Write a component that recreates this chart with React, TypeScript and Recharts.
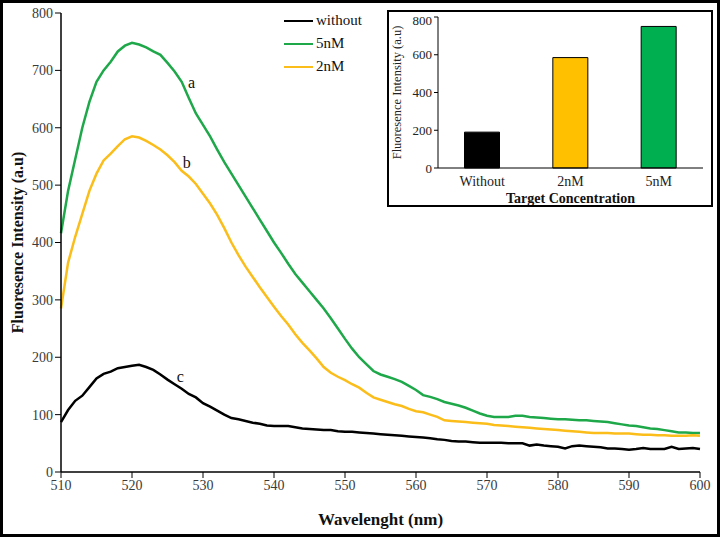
import {
  LineChart, Line, XAxis, YAxis, ReferenceDot,
  BarChart, Bar, Cell,
} from "recharts";

const SERIF = "'Liberation Serif', 'Times New Roman', serif";
const GREEN = "#1ea84a";
const YELLOW = "#fbbd1a";
const BLACK = "#000000";

// wavelength axis starts at 510 nm, one reading per nm
const START_NM = 510;
const wlTicks = [510, 520, 530, 540, 550, 560, 570, 580, 590, 600];
const intensityTicks = [0, 100, 200, 300, 400, 500, 600, 700, 800];

const without = [
  87, 108, 124, 133, 148, 163, 171, 175, 181, 183,
  185, 187, 183, 178, 170, 161, 153, 145, 136, 130,
  120, 114, 107, 100, 94, 92, 89, 86, 84, 81,
  80, 80, 80, 78, 76, 75, 74, 73, 73, 71,
  70, 70, 69, 68, 67, 66, 65, 64, 63, 62,
  61, 60, 59, 57, 56, 54, 53, 53, 52, 51,
  51, 51, 51, 50, 50, 50, 46, 48, 46, 45,
  44, 41, 45, 46, 45, 44, 43, 41, 41, 40,
  39, 40, 42, 40, 40, 40, 44, 40, 41, 42,
  40,
];

const nm5 = [
  416, 490, 545, 600, 645, 680, 700, 715, 733, 743,
  748, 745, 740, 733, 727, 713, 698, 680, 652, 625,
  605, 585, 562, 540, 520, 500, 480, 460, 440, 420,
  400, 382, 363, 345, 330, 315, 300, 285, 268, 250,
  232, 215, 200, 188, 176, 170, 166, 162, 157, 150,
  143, 134, 131, 127, 122, 119, 116, 112, 107, 102,
  98, 96, 96, 96, 98, 98, 96, 95, 94, 93,
  92, 92, 91, 90, 90, 89, 88, 87, 85, 83,
  81, 80, 78, 76, 75, 73, 71, 69, 69, 68,
  68,
];

const nm2 = [
  285, 365, 410, 450, 490, 520, 543, 555, 568, 580,
  585, 583, 577, 570, 562, 552, 540, 525, 515, 502,
  485, 468, 448, 425, 400, 378, 358, 340, 322, 305,
  288, 272, 257, 240, 225, 212, 198, 183, 173, 166,
  160, 153, 147, 138, 130, 126, 122, 118, 115, 110,
  106, 104, 100, 96, 90, 89, 88, 87, 86, 85,
  84, 82, 81, 80, 79, 78, 77, 76, 75, 74,
  73, 72, 71, 70, 69, 68, 68, 68, 67, 67,
  67, 66, 65, 65, 64, 64, 63, 63, 63, 64,
  63,
];

const spectra = without.map((v, i) => ({
  wl: START_NM + i,
  without: v,
  nm5: nm5[i],
  nm2: nm2[i],
}));

const curveTags = [
  { wl: 528.4, value: 680, text: "a" },
  { wl: 527.7, value: 540, text: "b" },
  { wl: 526.8, value: 167, text: "c" },
];

const legendItems = [
  { name: "without", color: BLACK },
  { name: "5nM", color: GREEN },
  { name: "2nM", color: YELLOW },
];

const barLabels = ["Without", "2nM", "5nM"];
const barValues = [190, 585, 750];
const barColors = [BLACK, "#ffc000", "#00b050"];
const barTicks = [0, 200, 400, 600, 800];

const bars = barLabels.map((name, i) => ({ name, value: barValues[i] }));

const tickStyle = { fill: "#3a3a3a", fontSize: 14, fontFamily: SERIF };

function LegendBox() {
  return (
    <div style={{ position: "absolute", left: 284, top: 9, fontFamily: SERIF, fontSize: 15, color: "#111" }}>
      {legendItems.map((it) => (
        <div key={it.name} style={{ display: "flex", alignItems: "center", height: 23 }}>
          <span style={{ width: 29, height: 2, background: it.color, marginRight: 3 }} />
          <span>{it.name}</span>
        </div>
      ))}
    </div>
  );
}

function Inset() {
  return (
    <div style={{
      position: "absolute", left: 387, top: 10, width: 326, height: 197,
      border: "2px solid #000", boxSizing: "border-box", background: "#fff",
    }}>
      <BarChart width={322} height={193} data={bars}
        margin={{ top: 5, right: 8, bottom: 0, left: 4 }} barCategoryGap="30%">
        <XAxis dataKey="name" tickLine={false} axisLine={{ stroke: "#000" }}
          tick={{ fill: "#222", fontSize: 14, fontFamily: SERIF }} height={37}
          interval={0}
          label={{ value: "Target Concentration", position: "insideBottom", offset: 2,
            style: { fill: "#111", fontSize: 14, fontWeight: 700, fontFamily: SERIF } }} />
        <XAxis xAxisId="top" orientation="top" dataKey="name" tick={false} tickLine={false}
          height={0} axisLine={{ stroke: "#999" }} />
        <YAxis domain={[0, 800]} ticks={barTicks} width={45} tickSize={4}
          axisLine={{ stroke: "#000" }} tickLine={{ stroke: "#000" }}
          tick={{ fill: "#222", fontSize: 13, fontFamily: SERIF }}
          label={{ value: "Fluoresence Intensity (a.u)", angle: -90, position: "insideLeft",
            offset: 4, textAnchor: "middle",
            style: { fill: "#222", fontSize: 12.5, fontFamily: SERIF } }} />
        <YAxis yAxisId="r" orientation="right" domain={[0, 800]} tick={false} tickLine={false}
          width={0} axisLine={{ stroke: "#999" }} />
        <Bar dataKey="value" stroke="#000" strokeWidth={1} isAnimationActive={false}>
          {bars.map((b, i) => <Cell key={b.name} fill={barColors[i]} />)}
        </Bar>
      </BarChart>
    </div>
  );
}

export default function App() {
  return (
    <div style={{ position: "absolute", left: 0, top: 0, width: 720, height: 537, background: "#fff" }}>
      <LineChart width={720} height={537} data={spectra}
        margin={{ top: 13, right: 20, bottom: 5, left: 12 }}>
        <XAxis dataKey="wl" type="number" domain={[510, 600]} ticks={wlTicks}
          tickSize={6} axisLine={{ stroke: "#000", strokeWidth: 1.5 }} tickLine={{ stroke: "#000" }}
          tick={tickStyle} height={60}
          label={{ value: "Wavelenght (nm)", position: "insideBottom", offset: 7,
            style: { fill: "#111", fontSize: 17, fontWeight: 700, fontFamily: SERIF } }} />
        <YAxis domain={[0, 800]} ticks={intensityTicks} width={49} tickSize={6}
          axisLine={{ stroke: "#000", strokeWidth: 1.5 }} tickLine={{ stroke: "#000" }}
          tick={tickStyle}
          label={{ value: "Fluoresence Intensity (a.u)", angle: -90, position: "insideLeft",
            offset: 5, textAnchor: "middle",
            style: { fill: "#111", fontSize: 16, fontWeight: 700, fontFamily: SERIF } }} />
        <Line dataKey="without" stroke={BLACK} strokeWidth={2.5} dot={false} type="linear" isAnimationActive={false} />
        <Line dataKey="nm5" stroke={GREEN} strokeWidth={2.5} dot={false} type="linear" isAnimationActive={false} />
        <Line dataKey="nm2" stroke={YELLOW} strokeWidth={2.5} dot={false} type="linear" isAnimationActive={false} />
        {curveTags.map((t) => (
          <ReferenceDot key={t.text} x={t.wl} y={t.value} r={0} fill="none" stroke="none"
            label={{ value: t.text, position: "center",
              style: { fill: "#111", fontSize: 16, fontFamily: SERIF } }} />
        ))}
      </LineChart>
      <LegendBox />
      <Inset />
      <div style={{
        position: "absolute", left: 0, top: 0, width: 720, height: 537,
        border: "3px solid #000", boxSizing: "border-box", pointerEvents: "none",
      }} />
    </div>
  );
}
